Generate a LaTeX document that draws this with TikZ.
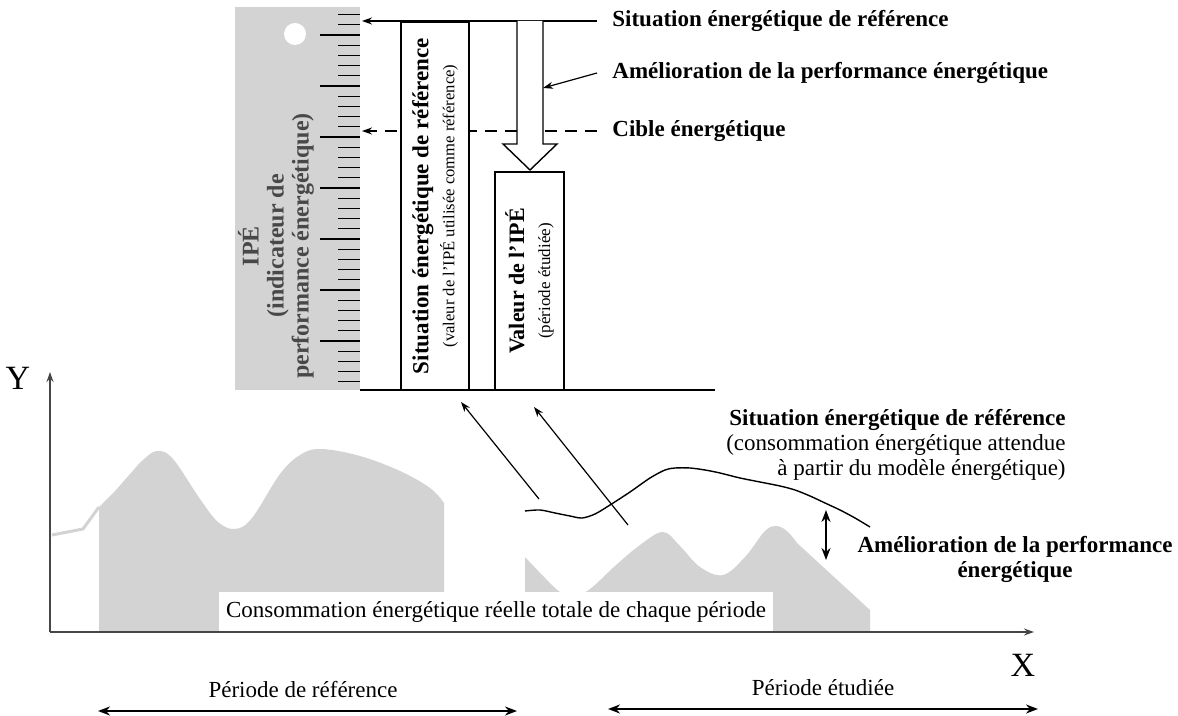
\documentclass[tikz,border=0pt]{standalone}
\usepackage{fontspec}
\setmainfont{Liberation Serif}
\usetikzlibrary{arrows.meta}
\definecolor{panelgray}{RGB}{210,211,210}
\definecolor{axisgray}{RGB}{70,70,70}
\definecolor{paneltext}{RGB}{72,72,72}
\newcommand\txt{\fontsize{11.5pt}{12.5pt}\selectfont}
\newcommand\smalltxt{\fontsize{8.3pt}{10pt}\selectfont}
\tikzset{
  tip/.style={-{Stealth[length=5pt,width=3.5pt]}},
  bigtips/.style={{Stealth[length=6pt,width=4.5pt]}-{Stealth[length=6pt,width=4.5pt]}},
  lbl/.style={font=\txt\bfseries,anchor=west,inner xsep=7.5pt},
  valbox/.style={draw,line width=1pt,fill=white,rotate=90,align=center,inner sep=0pt}
}
\begin{document}
\begin{tikzpicture}[x=0.5pt,y=-0.5pt]
\useasboundingbox (0,0) rectangle (1178,716);

% IPE scale
\fill[panelgray] (235,7) rectangle (360,390);
\fill[white] (295,34) circle (5.5pt);
\foreach \k in {-2,...,34}
{
	\draw[line width=.5pt] (338,{35.2+10.2*\k}) -- (360,{35.2+10.2*\k});
}
\foreach \k in {0,5,...,30}
{
	\draw[line width=1.1pt] (320,{35.2+10.2*\k}) -- (360,{35.2+10.2*\k});
}
\node[rotate=90,align=center,text=paneltext,font=\fontsize{12pt}{12.5pt}\selectfont\bfseries] (ipe) at (276,246) {IPÉ\\(indicateur de\\performance énergétique)};
\draw[line width=.8pt] (360,390) -- (715,390);

% levels
\coordinate (ipetop) at (362,21);
\coordinate (ipetarget) at (362,131);
\node[lbl] (reflbl) at (597,21) {Situation énergétique de référence};
\node[lbl] (ciblelbl) at (597,131) {Cible énergétique};
\node[lbl] (perflbl) at (597,73) {Amélioration de la performance énergétique};
\draw[tip,line width=.8pt] (reflbl.west) -- (ipetop);
\draw[tip,dashed,dash pattern=on 6pt off 4pt,line width=.7pt] (ciblelbl.west) -- (ipetarget);

% boxes
\node[valbox,minimum width=184pt,minimum height=34pt] (refbox) at (435,206)
	{{\txt\bfseries Situation énergétique de référence}\\[1pt]{\smalltxt (valeur de l’IPÉ utilisée comme référence)}};
\node[valbox,minimum width=109pt,minimum height=34.5pt] (valbox) at (529.5,281)
	{{\fontsize{11pt}{12.5pt}\selectfont\bfseries Valeur de l’IPÉ}\\[1pt]{\fontsize{8.5pt}{10pt}\selectfont (période étudiée)}};

% big arrow
\draw[line width=.7pt,fill=white] (517,21) -- (517,144) -- (503,144) -- (530,170) -- (557,144) -- (543,144) -- (543,21);
\coordinate (shaft) at (543,88);
\draw[tip,line width=.6pt] (perflbl.west) -- (shaft);

% consumption
\draw[panelgray,line width=1.5pt] (52,535) -- (83,529) -- (99,507);
\fill[panelgray] (99,632) -- plot[smooth,tension=.6] coordinates {(99,507) (115,491) (130,474) (143,460) (157,451) (173,459) (200,499) (218,522) (235,529) (252,518) (280,474) (300,455) (321,449) (360,456) (400,471) (430,488) (444,503)} -- (444,632) -- cycle;
\fill[panelgray] (525,632) -- plot[smooth,tension=.6] coordinates {(525,557) (545,578) (560,592) (573,597) (590,589) (615,566) (640,545) (663,532) (680,546) (700,567) (723,575) (745,557) (765,531) (777,526) (788,532) (797,543)} -- (870,610) -- (870,632) -- cycle;
\node[fill=white,minimum width=277pt,minimum height=20pt,inner sep=0pt,font=\txt] (conso) at (496,612) {Consommation énergétique réelle totale de chaque période};

% axes
\coordinate (origin) at (50,632);
\coordinate (ytop) at (50,372);
\coordinate (xend) at (1034,632);
\draw[axisgray,line width=.8pt,tip] (origin) -- (ytop);
\draw[axisgray,line width=.8pt,tip] (origin) -- (xend);
\node[font=\fontsize{17pt}{17pt}\selectfont] (ylbl) at (18,378) {Y};
\node[font=\fontsize{17pt}{17pt}\selectfont] (xlbl) at (1023,665) {X};

% baseline model
\draw[line width=.7pt] plot[smooth] coordinates {(525,511) (540,510) (555,513) (570,516) (582,518) (595,514) (610,505) (630,492) (650,478) (665,470) (675,468) (690,468) (705,470) (720,473) (740,478) (760,482) (780,486) (795,490) (810,496) (825,503) (840,510) (855,518) (870,527)};
\coordinate (s1) at (539,499);
\coordinate (t1) at (461,402);
\coordinate (s2) at (628,525);
\coordinate (t2) at (534,407);
\draw[tip,line width=.6pt] (s1) -- (t1);
\draw[tip,line width=.6pt] (s2) -- (t2);
\coordinate (gaptop) at (826,510);
\coordinate (gapbot) at (826,560);
\draw[bigtips,line width=1pt] (gaptop) -- (gapbot);
\node[anchor=east,align=right,inner sep=0pt,font=\txt] (baselbl) at (1066,445) {\textbf{Situation énergétique de référence}\\(consommation énergétique attendue\\à partir du modèle énergétique)};
\node[align=center,font=\txt\bfseries] (gaplbl) at (1015,559) {Amélioration de la performance\\énergétique};

% periods
\coordinate (refL) at (98,711);
\coordinate (refR) at (517,711);
\coordinate (etuL) at (608,709);
\coordinate (etuR) at (1038,709);
\node[font=\txt] (refper) at (303,690) {Période de référence};
\node[font=\txt] (etuper) at (823,688) {Période étudiée};
\draw[bigtips,line width=1.2pt] (refL) -- (refR);
\draw[bigtips,line width=1.2pt] (etuL) -- (etuR);
\end{tikzpicture}
\end{document}
